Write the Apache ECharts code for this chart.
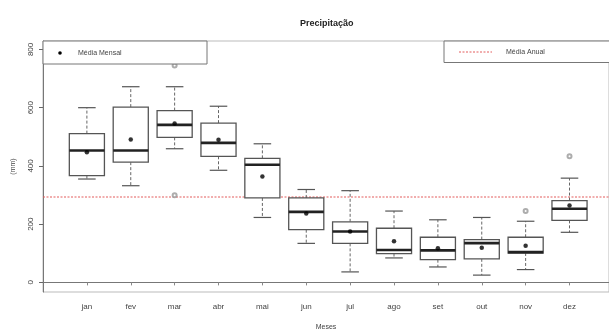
<!DOCTYPE html>
<html>
<head>
<meta charset="utf-8">
<script src="https://cdn.jsdelivr.net/npm/echarts@6/dist/echarts.min.js"></script>
<style>html,body{margin:0;padding:0;background:#fff}#c{width:609px;height:331px}</style>
</head>
<body>
<div id="c"></div>
<script>
// Data
const months = ['jan','fev','mar','abr','mai','jun','jul','ago','set','out','nov','dez'];
const whiskerLow  = [355, 332, 459, 385, 223, 134,  36,  84,  53,  25,  44, 172];
const q1          = [367, 413, 498, 433, 290, 181, 134,  99,  78,  81, 101, 213];
const median      = [453, 453, 541, 479, 404, 242, 175, 111, 110, 135, 104, 253];
const q3          = [511, 602, 590, 547, 426, 290, 208, 186, 155, 147, 155, 281];
const whiskerHigh = [600, 672, 672, 605, 476, 319, 315, 245, 215, 223, 210, 358];
const monthlyMean = [447, 491, 546, 490, 364, 237, 175, 141, 117, 119, 126, 264];
const outlierMonth = [3, 3, 11, 12];
const outlierValue = [745, 299, 245, 433];
const annualMean = 293;
const yTicks = [0, 200, 400, 600, 800];

const X_MIN = 0, X_MAX = 12.9;
const xTicks = months.map((m, i) => i + 1);
const boxData = months.map((m, i) => [i + 1, whiskerLow[i], q1[i], median[i], q3[i], whiskerHigh[i]]);
const meanData = months.map((m, i) => [i + 1, monthlyMean[i]]);
const outData = outlierMonth.map((m, i) => [m, outlierValue[i]]);
const annualData = [[X_MIN, annualMean], [X_MAX, annualMean]];

const chart = echarts.init(document.getElementById('c'));
const FONT = 'Liberation Sans';
const TXT = '#444';
const BOXC = '#555';
const RED = '#e35d5d';

function renderBox(params, api) {
  const x = api.value(0);
  const pLo = api.coord([x, api.value(1)]);
  const pQ1 = api.coord([x, api.value(2)]);
  const pMed = api.coord([x, api.value(3)]);
  const pQ3 = api.coord([x, api.value(4)]);
  const pHi = api.coord([x, api.value(5)]);
  const unit = api.size([1, 0])[0];
  const hw = unit * 0.4;
  const cw = hw * 0.5;
  const cx = pMed[0];
  const dash = { stroke: '#666', lineWidth: 1, lineDash: [3, 2] };
  const solid = { stroke: BOXC, lineWidth: 1.2 };
  return {
    type: 'group',
    children: [
      { type: 'line', shape: { x1: cx, y1: pQ3[1], x2: cx, y2: pHi[1] }, style: dash },
      { type: 'line', shape: { x1: cx, y1: pQ1[1], x2: cx, y2: pLo[1] }, style: dash },
      { type: 'line', shape: { x1: cx - cw, y1: pHi[1], x2: cx + cw, y2: pHi[1] }, style: solid },
      { type: 'line', shape: { x1: cx - cw, y1: pLo[1], x2: cx + cw, y2: pLo[1] }, style: solid },
      { type: 'rect', shape: { x: cx - hw, y: pQ3[1], width: hw * 2, height: pQ1[1] - pQ3[1] },
        style: { fill: '#fff', stroke: BOXC, lineWidth: 1.3 } },
      { type: 'line', shape: { x1: cx - hw, y1: pMed[1], x2: cx + hw, y2: pMed[1] },
        style: { stroke: '#222', lineWidth: 2.6 } }
    ]
  };
}

const option = {
  animation: false,
  backgroundColor: '#fff',
  title: {
    text: 'Precipitação',
    left: 295, top: 14,
    textStyle: { fontFamily: FONT, fontSize: 9, fontWeight: 'bold', color: '#222' }
  },
  grid: {
    left: 43, right: 0, top: 41, bottom: 39,
    outerBoundsMode: 'none', containLabel: false,
    show: true, borderColor: '#bbb', borderWidth: 1
  },
  xAxis: {
    type: 'value', min: X_MIN, max: X_MAX,
    name: 'Meses', nameLocation: 'middle', nameGap: 32,
    nameTextStyle: { fontFamily: FONT, fontSize: 7, color: TXT },
    axisLine: { show: true, lineStyle: { color: '#777', width: 1 } },
    axisTick: { show: true, customValues: xTicks, length: 3, lineStyle: { color: '#888' } },
    axisLabel: {
      customValues: xTicks, margin: 11,
      formatter: v => months[v - 1] || '',
      fontFamily: FONT, fontSize: 8, color: TXT
    },
    splitLine: { show: false }
  },
  yAxis: {
    type: 'value', min: -33, max: 829,
    name: '(mm)', nameLocation: 'middle', nameGap: 26, nameRotate: 90,
    nameTextStyle: { fontFamily: FONT, fontSize: 7, color: TXT },
    axisLine: { show: true, lineStyle: { color: '#777', width: 1 } },
    axisTick: { show: true, customValues: yTicks, length: 4, lineStyle: { color: '#666' } },
    axisLabel: {
      customValues: yTicks, rotate: 90, margin: 8,
      fontFamily: FONT, fontSize: 8, color: TXT
    },
    splitLine: { show: false }
  },
  series: [
    {
      type: 'line', data: annualData, showSymbol: false, symbol: 'none', silent: true,
      color: RED,
      lineStyle: { color: RED, width: 1.1, type: [2, 1.5], opacity: 1 }, z: 1
    },
    {
      type: 'custom',
      renderItem: renderBox,
      encode: { x: 0, y: [1, 2, 3, 4, 5] },
      data: boxData,
      z: 2
    },
    {
      type: 'scatter', data: meanData, symbol: 'circle', symbolSize: 4.5,
      itemStyle: { color: '#000' }, z: 5
    },
    {
      type: 'scatter', data: outData, symbol: 'emptyCircle', symbolSize: 4,
      itemStyle: { color: '#999', borderColor: '#999', borderWidth: 0.8 }, z: 5
    }
  ],
  graphic: [
    { type: 'rect', shape: { x: 43, y: 41, width: 164, height: 23 },
      style: { fill: '#fff', stroke: '#777', lineWidth: 1 }, z: 10 },
    { type: 'circle', shape: { cx: 60, cy: 53, r: 1.8 }, style: { fill: '#000' }, z: 11 },
    { type: 'text', x: 78, y: 53, z: 11,
      style: { text: 'Média Mensal', fontFamily: FONT, fontSize: 7, fill: TXT, verticalAlign: 'middle' } },
    { type: 'rect', shape: { x: 444, y: 41, width: 170, height: 21.5 },
      style: { fill: '#fff', stroke: '#777', lineWidth: 1 }, z: 10 },
    { type: 'line', shape: { x1: 459, y1: 52, x2: 492, y2: 52 },
      style: { stroke: RED, lineWidth: 1, lineDash: [2, 1.5] }, z: 11 },
    { type: 'text', x: 506, y: 52, z: 11,
      style: { text: 'Média Anual', fontFamily: FONT, fontSize: 7, fill: TXT, verticalAlign: 'middle' } }
  ]
};
chart.setOption(option);
</script>
</body>
</html>
